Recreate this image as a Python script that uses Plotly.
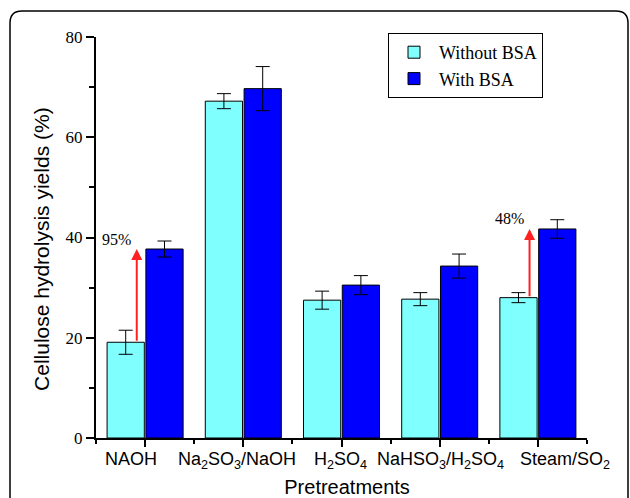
import plotly.graph_objects as go

categories = ["NAOH", "Na<sub>2</sub>SO<sub>3</sub>/NaOH", "H<sub>2</sub>SO<sub>4</sub>",
              "NaHSO<sub>3</sub>/H<sub>2</sub>SO<sub>4</sub>", "Steam/SO<sub>2</sub>"]
without_bsa = [19.1, 67.2, 27.5, 27.7, 28.0]
without_err = [2.4, 1.5, 1.8, 1.3, 1.0]
with_bsa = [37.7, 69.7, 30.5, 34.3, 41.7]
with_err = [1.6, 4.4, 1.9, 2.4, 1.85]
gain_labels = ["95%", None, None, None, "48%"]
y_ticks = [0, 20, 40, 60, 80]

# horizontal nudges of the category labels (pixels), as placed in the original
label_shift_px = [-14, -6, -1, 1, 27]

xpos = list(range(len(categories)))

fig = go.Figure()
fig.add_trace(go.Bar(
    x=xpos, y=without_bsa, name="Without BSA",
    marker=dict(color="#80FFFF", line=dict(color="black", width=1)),
    error_y=dict(type="data", array=without_err, color="black", thickness=1, width=7),
))
fig.add_trace(go.Bar(
    x=xpos, y=with_bsa, name="With BSA",
    marker=dict(color="#0000FF", line=dict(color="black", width=1)),
    error_y=dict(type="data", array=with_err, color="black", thickness=1, width=7),
))

# Category labels under the axis
for i, lab in enumerate(categories):
    fig.add_annotation(
        x=xpos[i], y=0, xref="x", yref="y", text=lab, showarrow=False,
        xanchor="center", yanchor="top", xshift=label_shift_px[i], yshift=-9,
        font=dict(family="Liberation Sans", size=18, color="black"),
    )

# Red arrows and percentage labels
for i, lab in enumerate(gain_labels):
    if lab is None:
        continue
    fig.add_annotation(
        x=i - 0.085, y=with_bsa[i], ax=i - 0.085, ay=without_bsa[i],
        xref="x", yref="y", axref="x", ayref="y",
        showarrow=True, arrowhead=2, arrowsize=1.1, arrowwidth=2,
        arrowcolor="#FF2020", text="",
    )
    fig.add_annotation(
        x=i - 0.29, y=with_bsa[i] + 2.0, xref="x", yref="y",
        text=lab, showarrow=False,
        font=dict(family="Liberation Serif", size=16, color="black"),
    )

# Rounded frame around the figure (paper coordinates)
L, R, T, B = 96, 587, 37, 438
W, H = R - L, B - T
def px(X):
    return (X - L) / W
def py(Y):
    return (B - Y) / H
fx0, fx1, fy0, fy1 = px(10), px(628), py(11), py(520)
rx, ry = 12 / W, 12 / H
path = (f"M {fx0} {fy1} L {fx0} {fy0 - ry} Q {fx0} {fy0} {fx0 + rx} {fy0} "
        f"L {fx1 - rx} {fy0} Q {fx1} {fy0} {fx1} {fy0 - ry} L {fx1} {fy1}")
fig.add_shape(type="path", path=path, xref="paper", yref="paper",
              line=dict(color="black", width=1.5))

fig.update_layout(
    width=630, height=498,
    margin=dict(l=L, r=630 - R, t=T, b=498 - B, autoexpand=False),
    paper_bgcolor="white", plot_bgcolor="white",
    barmode="group", bargap=0.21, bargroupgap=0.04,
    showlegend=True,
    legend=dict(
        x=px(388), y=py(33), xanchor="left", yanchor="top",
        bordercolor="black", borderwidth=1, bgcolor="white",
        font=dict(family="Liberation Serif", size=18, color="black"),
        itemwidth=40,
    ),
    font=dict(family="Liberation Sans", color="black"),
)
fig.update_xaxes(
    range=[-0.5, 4.5], tickmode="array", tickvals=xpos, ticktext=[""] * len(xpos),
    showticklabels=True, automargin=False,
    showline=True, linecolor="black", linewidth=2, mirror=False,
    ticks="outside", ticklen=7, tickwidth=1.5, tickcolor="black",
    tickfont=dict(family="Liberation Sans", size=18, color="black"),
    minor=dict(tickvals=[-0.5, 0.5, 1.5, 2.5, 3.5, 4.5], ticks="outside",
               ticklen=4, tickwidth=1.5, tickcolor="black"),
    showgrid=False, zeroline=False,
    title=dict(text="&nbsp;&nbsp;Pretreatments",
               font=dict(family="Liberation Sans", size=20, color="black"),
               standoff=38),
)
fig.update_yaxes(
    range=[0, 80], tickmode="array", tickvals=y_ticks, automargin=False,
    showline=True, linecolor="black", linewidth=2,
    ticks="outside", ticklen=8, tickwidth=1.5, tickcolor="black",
    tickfont=dict(family="Liberation Serif", size=17, color="black"),
    minor=dict(tickvals=[10, 30, 50, 70], ticks="outside", ticklen=5,
               tickwidth=1.5, tickcolor="black"),
    showgrid=False, zeroline=False,
    title=dict(text="Cellulose hydrolysis yields (%)&nbsp;&nbsp;&nbsp;&nbsp;",
               font=dict(family="Liberation Sans", size=21, color="black"),
               standoff=10),
)

fig.write_html("out.html", config={"displayModeBar": False},
               post_script="document.body.style.margin='0px';")
